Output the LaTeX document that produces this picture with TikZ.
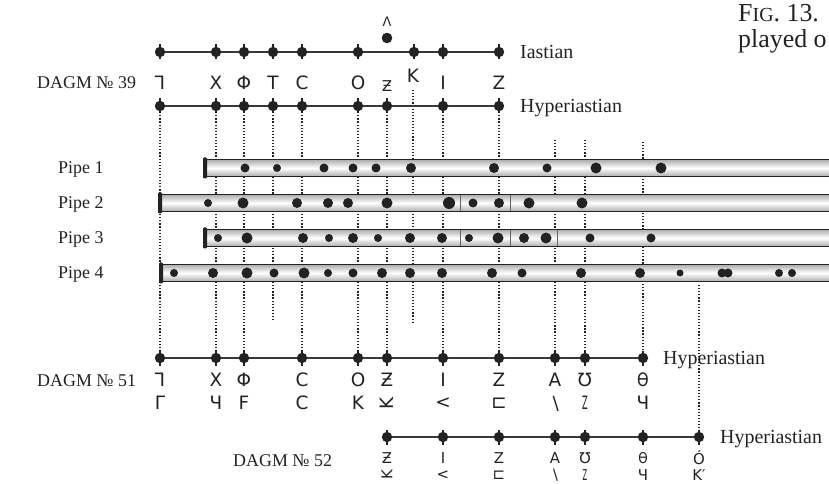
\documentclass[tikz,border=0pt]{standalone}
\usepackage{fontspec}
\setmainfont{Liberation Serif}
\newfontfamily\glyphfont{DejaVu Sans}
\usepackage{graphicx}
\definecolor{inkc}{HTML}{222222}
\begin{document}
\begin{tikzpicture}[x=1bp,y=-1bp,
  staff/.style={line width=1.9pt,draw=inkc!90},
  guide/.style={line width=1.3pt,draw=inkc,dash pattern=on 1.2pt off 1.9pt},
  tick/.style={line width=1.8pt,draw=inkc},
  gl/.style={font=\glyphfont\fontsize{18.5}{18.5}\selectfont,text=inkc,inner sep=0pt,anchor=center},
  glsmall/.style={font=\glyphfont\fontsize{15}{15}\selectfont,text=inkc,inner sep=0pt,anchor=center},
  lab/.style={font=\fontsize{20}{24}\selectfont,text=inkc,inner sep=0pt,anchor=base west},
  dagm/.style={font=\fontsize{18}{22}\selectfont,text=inkc,inner sep=0pt,anchor=base west},
  pipelab/.style={font=\fontsize{18}{22}\selectfont,text=inkc,inner sep=0pt,anchor=base west},
  figcap/.style={font=\fontsize{26}{30}\selectfont,text=inkc,inner sep=0pt,anchor=base west},
  pipebody/.style={draw=inkc,line width=2pt,top color=gray!65,bottom color=gray!65,middle color=white},
  pipeend/.style={fill=inkc,rounded corners=1.2bp},
  sep/.style={draw=inkc!70,line width=0.6pt},
  hole/.style={fill=inkc}
]
\useasboundingbox (0,0) rectangle (829,484);
\clip (0,0) rectangle (829,484);

% ---------- coordinates of the staves ----------
\foreach \n/\x in {1/160,2/216,3/244,4/273,5/302,6/358,8/414,9/443,10/499}
  \coordinate (ia\n) at (\x,52);
\coordinate (ia7) at (387,38);
\foreach \n/\x in {1/160,2/216,3/244,4/273,5/302,6/358,7/387,9/443,10/499}
  \coordinate (hy\n) at (\x,106);
\coordinate (hy8) at (413,90);
\foreach \n/\x in {1/160,2/216,3/244,5/302,6/358,7/387,9/443,10/499,11/555,12/585,13/643}
  \coordinate (da\n) at (\x,358);
\foreach \n/\x in {7/387,9/443,10/499,11/555,12/585,13/643,14/699}
  \coordinate (db\n) at (\x,437);
\coordinate (g4) at (273,320);
\coordinate (g8) at (413,323);
\coordinate (g11) at (555,140);
\coordinate (g12) at (585,140);
\coordinate (g13) at (643,142);
\coordinate (g14) at (699,285);

% ---------- dotted guides ----------
\foreach \a/\b in {hy1/da1,hy2/da2,hy3/da3,hy4/g4,hy5/da5,hy6/da6,hy7/da7,hy8/g8,hy9/da9,hy10/da10,g11/da11,g12/da12,g13/da13,g14/db14}
  \draw[guide] (\a) -- (\b);

% ---------- pipes ----------
\foreach \y/\x in {168/205,203/160,238/205,273/161}{
  \path[pipebody] (\x,\y-8.5) rectangle (850,\y+8.5);
  \path[pipeend] (\x-2,\y-10.5) rectangle (\x+2,\y+10.5);
}
\foreach \x in {460,510} \draw[sep] (\x,195) -- (\x,211);
\foreach \x in {460,510,557} \draw[sep] (\x,230) -- (\x,246);

\foreach \x/\r in {245/4.5,277/4,324/4.5,353/4.5,376/4.5,411/5,494/5,547/4.5,596/5.5,661/5.5}
  \fill[hole] (\x,168) circle (\r);
\foreach \x/\r in {208/4,243/5.5,297/5,328/5,348/5,387/5.5,449/6,473/4.5,499/5,529/5.5,582/5.5}
  \fill[hole] (\x,203) circle (\r);
\foreach \x/\r in {218/4,247/5.5,303/5,329/4,353/5,378/4,410/5,442/5,469/4,498/5.5,524/5,546/5.5,590/4.5,651/4.5}
  \fill[hole] (\x,238) circle (\r);
\foreach \x/\r in {174/4,213/5,247/5.5,274/4.5,304/5.5,328/4,353/4.5,382/5,410/5,442/5,492/5,522/4.5,581/5,640/5,680/3.5,722/4.5,728/4.5,779/4,792/4}
  \fill[hole] (\x,273) circle (\r);

% ---------- staff lines ----------
\draw[staff] (ia1) -- (ia10);
\draw[staff] (hy1) -- (hy10);
\draw[staff] (da1) -- (da13);
\draw[staff] (db7) -- (db14);

% ---------- staff dots ----------
\foreach \c in {ia1,ia2,ia3,ia4,ia5,ia6,ia8,ia9,ia10,
                hy1,hy2,hy3,hy4,hy5,hy6,hy7,hy9,hy10,
                da1,da2,da3,da5,da6,da7,da9,da10,da11,da12,da13,
                db7,db9,db10,db11,db12,db13,db14}{
  \fill[inkc] (\c) circle (5.2);
  \draw[tick] (\c) ++(0,-7.5) -- ++(0,15);
}
\fill[inkc] (ia7) circle (5.3);

% ---------- labels ----------
\node[figcap] (fig) at (738,22) {F{\fontsize{20}{20}\selectfont IG}. 13.};
\node[figcap] (figb) at (738,48) {played o};

\node[lab] (lIa) at (520,58.5) {Iastian};
\node[lab] (lHy) at (520,112.5) {Hyperiastian};
\node[lab] (lHy51) at (663,364.5) {Hyperiastian};
\node[lab] (lHy52) at (720,443.5) {Hyperiastian};

\node[dagm] (d39) at (37,89) {DAGM № 39};
\node[dagm] (d51) at (37,386) {DAGM № 51};
\node[dagm] (d52) at (233,466) {DAGM № 52};

\node[pipelab] (p1) at (58,174) {Pipe 1};
\node[pipelab] (p2) at (58,209) {Pipe 2};
\node[pipelab] (p3) at (58,244) {Pipe 3};
\node[pipelab] (p4) at (58,279) {Pipe 4};

% ---------- notation signs, DAGM 39 ----------
\node[glsmall,font=\glyphfont\fontsize{13}{13}\selectfont] (lam) at (387,22) {Λ};
\node[gl] (t1) at (160,83) {\reflectbox{Γ}};
\node[gl] (t2) at (216,83) {X};
\node[gl] (t3) at (244,83) {Φ};
\node[gl] (t4) at (273,83) {T};
\node[gl] (t5) at (302,83) {C};
\node[gl] (t6) at (358,83) {O};
\node[glsmall] (t7) at (387,86) {Ƶ};
\node[gl] (t8) at (413,76) {K};
\node[gl] (t9) at (443,83) {I};
\node[gl] (t10) at (499,83) {Z};

% ---------- DAGM 51 ----------
\node[gl] (u1) at (160,380) {\reflectbox{Γ}};
\node[gl] (u2) at (216,380) {X};
\node[gl] (u3) at (244,380) {Φ};
\node[gl] (u5) at (302,380) {C};
\node[gl] (u6) at (358,380) {O};
\node[gl] (u7) at (387,380) {Ƶ};
\node[gl] (u9) at (443,380) {I};
\node[gl] (u10) at (499,380) {Z};
\node[gl] (u11) at (555,380) {A};
\node[gl] (u12) at (585,380) {Ʊ};
\node[gl] (u13) at (643,380) {\scalebox{0.8}[1]{Ө}};

\node[gl] (v1) at (160,403) {Γ};
\node[gl] (v2) at (216,403) {Ч};
\node[gl] (v3) at (244,403) {F};
\node[gl] (v5) at (302,403) {C};
\node[gl] (v6) at (358,403) {K};
\node[gl] (v7) at (387,403) {\rotatebox{90}{K}};
\node[gl] (v9) at (443,403) {<};
\node[gl] (v10) at (499,403) {⊏};
\node[gl] (v11) at (555,404) {∖};
\node[gl] (v12) at (585,403) {\scalebox{0.45}[1]{Z}};
\node[gl] (v13) at (643,403) {Ч};

% ---------- DAGM 52 ----------
\node[glsmall] (w7) at (387,458) {Ƶ};
\node[glsmall] (w9) at (443,458) {I};
\node[glsmall] (w10) at (499,458) {Z};
\node[glsmall] (w11) at (555,458) {A};
\node[glsmall] (w12) at (585,458) {Ʊ};
\node[glsmall] (w13) at (643,458) {\scalebox{0.8}[1]{Ө}};
\node[glsmall] (w14) at (699,458) {Ó};

\node[glsmall] (z7) at (387,475) {\rotatebox{90}{K}};
\node[glsmall] (z9) at (443,475) {<};
\node[glsmall] (z10) at (499,475) {⊏};
\node[glsmall] (z11) at (555,475.5) {∖};
\node[glsmall] (z12) at (585,475) {\scalebox{0.45}[1]{Z}};
\node[glsmall] (z13) at (643,475) {Ч};
\node[glsmall] (z14) at (699,475) {K′};
\end{tikzpicture}
\end{document}
